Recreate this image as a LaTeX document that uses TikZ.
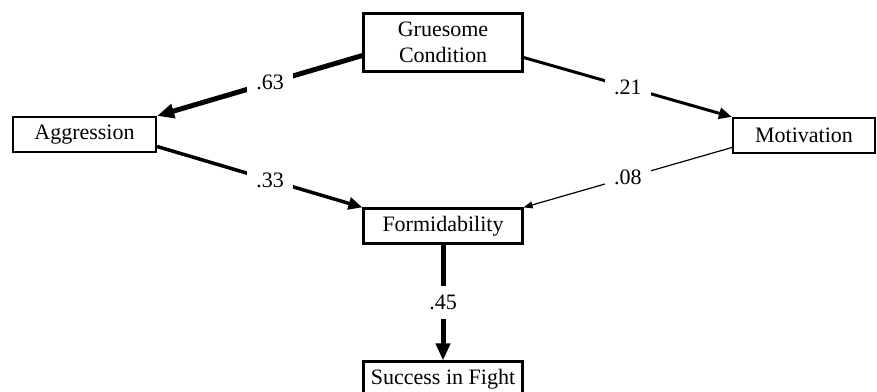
\documentclass[tikz,border=0pt]{standalone}
\usepackage{fontspec}
\setmainfont{Liberation Serif}
\usetikzlibrary{arrows.meta}
\begin{document}
\begin{tikzpicture}[x=1pt,y=-1pt,
  box/.style={draw,line width=2.2pt,inner sep=0pt,font=\fontsize{22}{26}\selectfont,align=center},
  lbl/.style={fill=white,inner xsep=9pt,inner ysep=6pt,font=\fontsize{22}{24}\selectfont},
  path1/.style={line width=#1}]
\useasboundingbox (0,0) rectangle (877,391);
\node[box,minimum width=159pt,minimum height=58pt] (g) at (443,42.5) {Gruesome\\Condition};
\node[box,minimum width=143pt,minimum height=35pt] (a) at (84.5,134.5) {Aggression};
\node[box,minimum width=142pt,minimum height=35pt] (m) at (804,135.5) {Motivation};
\node[box,minimum width=159pt,minimum height=35pt] (f) at (443,226) {Formidability};
\node[box,minimum width=159pt,minimum height=35pt] (s) at (443,379) {Success in Fight};
\draw[line width=5pt,-{Triangle[length=17pt,width=14pt]}] ([yshift=-13pt]g.west) -- (a.north east) node[lbl,pos=0.45] {.63};
\draw[line width=3.5pt,-{Triangle[length=14pt,width=12pt]}] ([yshift=-12pt]a.east) -- (f.north west) node[lbl,pos=0.55] {.33};
\draw[line width=3pt,-{Triangle[length=13pt,width=11pt]}] ([yshift=-15pt]g.east) -- (m.north west) node[lbl,pos=0.5] {.21};
\draw[line width=1.2pt,-{Triangle[length=9pt,width=7pt]}] ([yshift=-12pt]m.west) -- (f.north east) node[lbl,pos=0.5] {.08};
\draw[line width=5pt,-{Triangle[length=17pt,width=14pt]}] (f.south) -- (s.north) node[lbl,pos=0.5,inner ysep=9pt] {.45};
\end{tikzpicture}
\end{document}
